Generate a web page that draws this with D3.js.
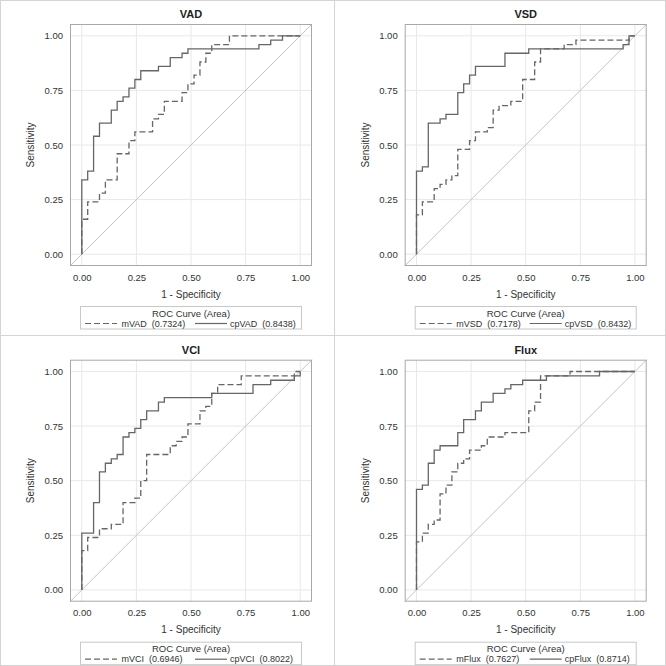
<!DOCTYPE html>
<html><head><meta charset="utf-8">
<script src="https://cdn.jsdelivr.net/npm/d3@7"></script>
<style>body{margin:0;background:#fff}text{font-family:"Liberation Sans",Arial,sans-serif}</style>
</head><body>
<svg id="c" width="666" height="666"></svg>
<script>
// ---- data ----
const titles = ["VAD", "VSD", "VCI", "Flux"];
const mNames = ["mVAD", "mVSD", "mVCI", "mFlux"];
const cpNames = ["cpVAD", "cpVSD", "cpVCI", "cpFlux"];
const aucM = ["0.7324", "0.7178", "0.6946", "0.7627"];
const aucCp = ["0.8438", "0.8432", "0.8022", "0.8714"];
const tickVals = [0, 0.25, 0.5, 0.75, 1];
const tickLabels = ["0.00", "0.25", "0.50", "0.75", "1.00"];

// step points: (1-specificity, sensitivity)
const mVAD_x = [0, 0.027, 0.081, 0.108, 0.162, 0.216, 0.243, 0.324, 0.351, 0.378, 0.459, 0.486, 0.514, 0.541, 0.568, 0.595, 0.676, 1];
const mVAD_y = [0, 0.16, 0.24, 0.28, 0.34, 0.46, 0.52, 0.56, 0.62, 0.64, 0.70, 0.74, 0.78, 0.82, 0.88, 0.92, 0.96, 1.00];
const cpVAD_x = [0, 0.027, 0.054, 0.081, 0.135, 0.162, 0.189, 0.216, 0.243, 0.270, 0.351, 0.405, 0.459, 0.486, 0.811, 0.865, 0.919, 1];
const cpVAD_y = [0, 0.34, 0.38, 0.54, 0.60, 0.66, 0.70, 0.72, 0.76, 0.80, 0.84, 0.86, 0.90, 0.92, 0.94, 0.96, 0.98, 1.00];

const mVSD_x = [0, 0.027, 0.081, 0.108, 0.135, 0.162, 0.189, 0.243, 0.270, 0.324, 0.351, 0.378, 0.432, 0.486, 0.541, 0.568, 0.676, 0.730, 0.973, 1];
const mVSD_y = [0, 0.18, 0.24, 0.30, 0.32, 0.34, 0.36, 0.48, 0.52, 0.56, 0.58, 0.66, 0.68, 0.70, 0.80, 0.88, 0.94, 0.96, 0.98, 1.00];
const cpVSD_x = [0, 0.027, 0.054, 0.108, 0.135, 0.189, 0.216, 0.243, 0.270, 0.405, 0.514, 0.946, 0.973, 1];
const cpVSD_y = [0, 0.38, 0.40, 0.60, 0.62, 0.64, 0.74, 0.78, 0.82, 0.86, 0.92, 0.94, 0.96, 1.00];

const mVCI_x = [0, 0.027, 0.081, 0.135, 0.189, 0.243, 0.270, 0.297, 0.405, 0.432, 0.459, 0.486, 0.541, 0.568, 0.595, 0.622, 0.730, 0.973, 1];
const mVCI_y = [0, 0.18, 0.24, 0.28, 0.30, 0.40, 0.42, 0.50, 0.62, 0.66, 0.68, 0.70, 0.76, 0.82, 0.84, 0.90, 0.94, 0.98, 1.00];
const cpVCI_x = [0, 0.054, 0.081, 0.108, 0.135, 0.162, 0.189, 0.216, 0.243, 0.270, 0.297, 0.351, 0.378, 0.595, 0.784, 0.865, 0.973, 1, 1];
const cpVCI_y = [0, 0.26, 0.40, 0.54, 0.58, 0.60, 0.62, 0.70, 0.72, 0.74, 0.78, 0.82, 0.86, 0.88, 0.90, 0.94, 0.96, 0.98, 1.00];

const mFlux_x = [0, 0.027, 0.054, 0.081, 0.108, 0.135, 0.162, 0.189, 0.216, 0.243, 0.297, 0.324, 0.405, 0.514, 0.541, 0.568, 0.703, 1];
const mFlux_y = [0, 0.22, 0.26, 0.30, 0.32, 0.44, 0.48, 0.54, 0.58, 0.60, 0.64, 0.66, 0.70, 0.72, 0.82, 0.86, 0.98, 1.00];
const cpFlux_x = [0, 0.027, 0.054, 0.081, 0.108, 0.189, 0.216, 0.270, 0.297, 0.351, 0.405, 0.432, 0.486, 0.595, 0.838, 1];
const cpFlux_y = [0, 0.46, 0.48, 0.58, 0.64, 0.66, 0.72, 0.78, 0.82, 0.86, 0.90, 0.92, 0.94, 0.96, 0.98, 1.00];

const mX = [mVAD_x, mVSD_x, mVCI_x, mFlux_x];
const mY = [mVAD_y, mVSD_y, mVCI_y, mFlux_y];
const cpX = [cpVAD_x, cpVSD_x, cpVCI_x, cpFlux_x];
const cpY = [cpVAD_y, cpVSD_y, cpVCI_y, cpFlux_y];

// ---- drawing ----
const svg = d3.select("#c");
const offsets = [[0, 0], [334.7, 0], [0, 335.7], [334.7, 335.7]];
const curveColor = "#666";
const textColor = "#333";

// panel borders
svg.append("rect").attr("x", 0.5).attr("y", 0.5).attr("width", 665).attr("height", 665)
  .attr("fill", "none").attr("stroke", "#d4d4d4");
svg.append("line").attr("x1", 334.5).attr("x2", 334.5).attr("y1", 0).attr("y2", 666).attr("stroke", "#d4d4d4");
svg.append("line").attr("x1", 0).attr("x2", 666).attr("y1", 335.5).attr("y2", 335.5).attr("stroke", "#d4d4d4");

const dom = [-0.054, 1.054];

titles.forEach((t, i) => {
  const [ox, oy] = offsets[i];
  const g = svg.append("g").attr("transform", `translate(${ox},${oy})`);
  const L = 70, R = 312, T = 24, B = 266;
  const x = d3.scaleLinear().domain(dom).range([L, R]);
  const y = d3.scaleLinear().domain(dom).range([B, T]);

  // grid
  g.selectAll(".gx").data(tickVals).enter().append("line")
    .attr("x1", d => x(d)).attr("x2", d => x(d)).attr("y1", T).attr("y2", B)
    .attr("stroke", "#e8e8e8").attr("stroke-width", 1);
  g.selectAll(".gy").data(tickVals).enter().append("line")
    .attr("y1", d => y(d)).attr("y2", d => y(d)).attr("x1", L).attr("x2", R)
    .attr("stroke", "#e8e8e8").attr("stroke-width", 1);

  // diagonal reference
  g.append("line").attr("x1", x(dom[0])).attr("y1", y(dom[0])).attr("x2", x(dom[1])).attr("y2", y(dom[1]))
    .attr("stroke", "#c4c4c4").attr("stroke-width", 1);

  // axes (labels only)
  const xa = g.append("g").attr("transform", `translate(0,${B})`)
    .call(d3.axisBottom(x).tickValues(tickVals).tickFormat((d, k) => tickLabels[k]).tickSize(0).tickPadding(8));
  const ya = g.append("g").attr("transform", `translate(${L},0)`)
    .call(d3.axisLeft(y).tickValues(tickVals).tickFormat((d, k) => tickLabels[k]).tickSize(0).tickPadding(7));
  [xa, ya].forEach(a => {
    a.select(".domain").remove();
    a.selectAll("text").attr("font-size", "9.5px").attr("fill", textColor)
      .attr("font-family", '"Liberation Sans",Arial,sans-serif');
  });

  // curves
  const line = d3.line().x(d => x(d[0])).y(d => y(d[1])).curve(d3.curveStepBefore);
  const mPts = mX[i].map((v, k) => [v, mY[i][k]]);
  const cpPts = cpX[i].map((v, k) => [v, cpY[i][k]]);
  g.append("path").attr("d", line(mPts)).attr("fill", "none").attr("stroke", curveColor)
    .attr("stroke-width", 1.3).attr("stroke-dasharray", "6,3");
  g.append("path").attr("d", line(cpPts)).attr("fill", "none").attr("stroke", curveColor)
    .attr("stroke-width", 1.3);

  // frame
  g.append("rect").attr("x", L + 0.5).attr("y", T + 0.5).attr("width", R - L - 1).attr("height", B - T - 1)
    .attr("fill", "none").attr("stroke", "#a8a8a8").attr("stroke-width", 1);

  // title
  g.append("text").attr("x", (L + R) / 2).attr("y", 18).attr("text-anchor", "middle")
    .attr("font-size", "11px").attr("font-weight", "bold").attr("fill", "#222").text(t);
  // axis labels
  g.append("text").attr("x", (L + R) / 2).attr("y", 297.5).attr("text-anchor", "middle")
    .attr("font-size", "10px").attr("fill", textColor).text("1 - Specificity");
  g.append("text").attr("transform", `translate(34,${(T + B) / 2}) rotate(-90)`).attr("text-anchor", "middle")
    .attr("font-size", "10px").attr("fill", textColor).text("Sensitivity");

  // legend
  const lg = g.append("g");
  lg.append("rect").attr("x", 80.5).attr("y", 306.5).attr("width", 221).attr("height", 22.5)
    .attr("fill", "#fff").attr("stroke", "#c8c8c8");
  lg.append("text").attr("x", 191).attr("y", 316.5).attr("text-anchor", "middle")
    .attr("font-size", "9.5px").attr("fill", textColor).text("ROC Curve (Area)");
  lg.append("line").attr("x1", 85).attr("x2", 117).attr("y1", 323.5).attr("y2", 323.5)
    .attr("stroke", curveColor).attr("stroke-width", 1.2).attr("stroke-dasharray", "6,3");
  lg.append("text").attr("x", 121.5).attr("y", 326.5).attr("font-size", "9px").attr("fill", textColor)
    .style("white-space", "pre").text(`${mNames[i]}  (${aucM[i]})`);
  lg.append("line").attr("x1", 195).attr("x2", 227).attr("y1", 323.5).attr("y2", 323.5)
    .attr("stroke", curveColor).attr("stroke-width", 1.2);
  lg.append("text").attr("x", 230).attr("y", 326.5).attr("font-size", "9px").attr("fill", textColor)
    .style("white-space", "pre").text(`${cpNames[i]}  (${aucCp[i]})`);
});
</script>
</body></html>
